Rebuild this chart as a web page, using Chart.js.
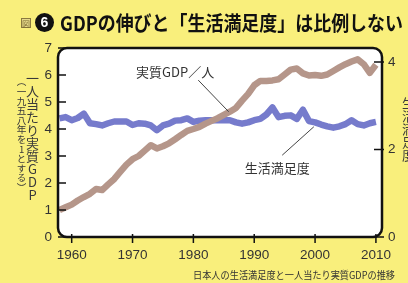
<!DOCTYPE html>
<html><head><meta charset="utf-8">
<script src="https://cdn.jsdelivr.net/npm/chart.js@4"></script>
<style>
html,body{margin:0;padding:0;width:408px;height:283px;overflow:hidden;background:#f9ef7c;}
#wrap{position:relative;width:408px;height:283px;overflow:hidden;}
canvas{position:absolute;left:0;top:0;}
.t{position:absolute;white-space:nowrap;font-family:"Noto Sans CJK JP","Noto Sans",sans-serif;line-height:1;}
.v{writing-mode:vertical-rl;text-orientation:upright;}
</style></head><body>
<div id="wrap">
<canvas id="c" width="408" height="283"></canvas>
<div class="t" id="icon" style="left:21px;top:18px;width:10px;height:10px;font-size:8px;text-align:center;line-height:10px;color:#7a6a30;background:#e6d98a;border:1px solid #8a7a40;box-sizing:border-box;">図</div>
<div class="t" id="badge" style="left:35px;top:13px;width:19px;height:19px;border-radius:50%;background:#111;color:#fff;font-weight:bold;font-size:14px;text-align:center;line-height:19px;font-family:'Liberation Sans',sans-serif;">6</div>
<div class="t" id="title" style="left:60px;top:13px;font-size:20px;font-weight:bold;color:#111;transform-origin:0 0;">GDPの伸びと「生活満足度」は比例しない</div>
<div class="t v" id="ylab" style="left:26px;top:72px;font-size:13px;color:#3a3a3a;">一人当たり実質GDP</div>
<div class="t v" id="ylab2" style="left:16px;top:77px;font-size:9.6px;color:#3a3a3a;">（一九五八年を1とする）</div>
<div class="t v" id="y2lab" style="left:402px;top:97px;font-size:13px;color:#3a3a3a;">生活満足度</div>
<div class="t" id="caption" style="left:193px;top:270px;font-size:10px;color:#333;transform-origin:0 0;">日本人の生活満足度と一人当たり実質GDPの推移</div>
</div>
<script>
// ---- data ----
const years = [1958,1959,1960,1961,1962,1963,1964,1965,1966,1967,1968,1969,1970,1971,1972,1973,1974,1975,1976,1977,1978,1979,1980,1981,1982,1983,1984,1985,1986,1987,1988,1989,1990,1991,1992,1993,1994,1995,1996,1997,1998,1999,2000,2001,2002,2003,2004,2005,2006,2007,2008,2009,2010];
const gdpPerCapita = [1.00,1.10,1.20,1.35,1.48,1.60,1.78,1.74,1.95,2.15,2.42,2.68,2.88,3.00,3.20,3.40,3.28,3.36,3.47,3.62,3.78,3.93,4.00,4.08,4.20,4.30,4.40,4.52,4.64,4.78,5.05,5.30,5.62,5.78,5.78,5.80,5.84,6.02,6.20,6.24,6.06,5.98,6.00,5.97,6.02,6.15,6.28,6.40,6.50,6.58,6.40,6.08,6.38];
const satisfaction = [2.71,2.74,2.67,2.72,2.82,2.60,2.58,2.55,2.60,2.64,2.64,2.64,2.56,2.60,2.59,2.55,2.44,2.55,2.59,2.66,2.67,2.71,2.63,2.66,2.67,2.67,2.67,2.67,2.67,2.62,2.59,2.62,2.67,2.70,2.80,2.96,2.74,2.77,2.78,2.70,2.91,2.65,2.62,2.57,2.53,2.50,2.53,2.58,2.67,2.58,2.55,2.60,2.63];
const xTicks = [1960,1970,1980,1990,2000,2010];
const leftTicks = [0,1,2,3,4,5,6,7];
const rightTicks = [0,2,4];
const seriesNames = ['実質GDP／人','生活満足度'];

// annotation anchors in data units
const notes = [
  {text:seriesNames[0], axis:'y',  label:[1977.0,6.11], from:[1980.8,5.81], to:[1985.8,4.64]},
  {text:seriesNames[1], axis:'y2', label:[1993.8,1.57], from:[1994.6,1.87], to:[1999.8,2.52]}
];

const framePlugin = {
  id:'frame',
  beforeDatasetsDraw(chart){
    const {ctx, chartArea:a} = chart;
    ctx.save();
    ctx.beginPath();
    ctx.roundRect(a.left, a.top, a.right-a.left, a.bottom-a.top, 9);
    ctx.fillStyle = '#ffffff';
    ctx.fill();
    ctx.restore();
  },
  afterDatasetsDraw(chart){
    const {ctx, chartArea:a, scales} = chart;
    ctx.save();
    // ticks
    ctx.strokeStyle = '#111';
    ctx.lineWidth = 1.5;
    ctx.beginPath();
    scales.y.ticks.forEach(t => {
      const p = scales.y.getPixelForValue(t.value);
      ctx.moveTo(a.left, p); ctx.lineTo(a.left + 8, p);
    });
    scales.y2.ticks.forEach(t => {
      const p = scales.y2.getPixelForValue(t.value);
      ctx.moveTo(a.right - 8, p); ctx.lineTo(a.right + 2, p);
    });
    scales.x.ticks.forEach(t => {
      const p = scales.x.getPixelForValue(t.value);
      ctx.moveTo(p, a.bottom - 3); ctx.lineTo(p, a.bottom + 6);
    });
    ctx.stroke();
    // frame
    ctx.beginPath();
    ctx.roundRect(a.left, a.top, a.right-a.left, a.bottom-a.top, 9);
    ctx.lineWidth = 2.5;
    ctx.strokeStyle = '#111';
    ctx.stroke();
    // annotations
    notes.forEach(n => {
      const ys = scales[n.axis];
      ctx.beginPath();
      ctx.moveTo(scales.x.getPixelForValue(n.from[0]), ys.getPixelForValue(n.from[1]));
      ctx.lineTo(scales.x.getPixelForValue(n.to[0]), ys.getPixelForValue(n.to[1]));
      ctx.lineWidth = 1;
      ctx.strokeStyle = '#444';
      ctx.stroke();
      ctx.font = '13px "Noto Sans CJK JP", sans-serif';
      ctx.fillStyle = '#333';
      ctx.textAlign = 'center';
      ctx.textBaseline = 'middle';
      ctx.fillText(n.text, scales.x.getPixelForValue(n.label[0]), ys.getPixelForValue(n.label[1]));
    });
    ctx.restore();
  }
};

const tickFont = {family:'"Liberation Sans", Arial, sans-serif', size:13.5};

new Chart(document.getElementById('c'), {
  type:'line',
  data:{
    datasets:[
      {label:seriesNames[0], data:years.map((y,i)=>({x:y,y:gdpPerCapita[i]})), yAxisID:'y',
       borderColor:'#b5968a', borderWidth:6.5, pointRadius:0, tension:0, borderJoinStyle:'round', borderCapStyle:'butt', clip:0},
      {label:seriesNames[1], data:years.map((y,i)=>({x:y,y:satisfaction[i]})), yAxisID:'y2',
       borderColor:'#767bcc', borderWidth:6.5, pointRadius:0, tension:0, borderJoinStyle:'round', borderCapStyle:'butt', clip:0}
    ]
  },
  options:{
    responsive:false, animation:false,
    layout:{padding:{top:48,left:0,right:0,bottom:0}},
    plugins:{legend:{display:false}, tooltip:{enabled:false}},
    scales:{
      x:{type:'linear', min:1957.75, max:2011,
         afterBuildTicks:s=>{s.ticks = xTicks.map(v=>({value:v}));},
         afterFit:s=>{s.height = 46;},
         grid:{display:false, drawTicks:false}, border:{display:false},
         ticks:{color:'#333', font:tickFont, padding:10, maxRotation:0, autoSkip:false, callback:v=>String(v)}},
      y:{type:'linear', position:'left', min:0, max:7,
         afterBuildTicks:s=>{s.ticks = leftTicks.map(v=>({value:v}));},
         afterFit:s=>{s.width = 58;},
         grid:{display:false, drawTicks:false}, border:{display:false},
         ticks:{color:'#333', font:tickFont, padding:6}},
      y2:{type:'linear', position:'right', min:0, max:4.32,
         afterBuildTicks:s=>{s.ticks = rightTicks.map(v=>({value:v}));},
         afterFit:s=>{s.width = 26;},
         grid:{display:false, drawTicks:false}, border:{display:false},
         ticks:{color:'#333', font:tickFont, padding:6}}
    }
  },
  plugins:[framePlugin]
});

function fit(id, w){
  const el = document.getElementById(id);
  const r = el.getBoundingClientRect().width;
  el.style.transform = 'scaleX(' + (w / r) + ')';
}
fit('title', 343);
fit('caption', 202);
</script>
</body></html>
